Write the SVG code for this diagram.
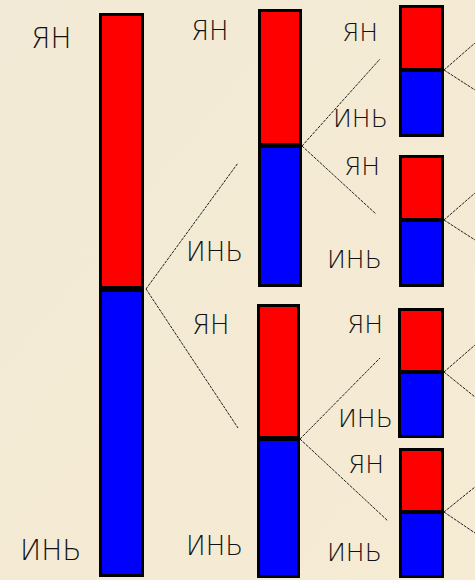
<svg xmlns="http://www.w3.org/2000/svg" width="475" height="580" viewBox="0 0 475 580">
<defs>
<linearGradient id="bg" x1="0" y1="0" x2="1" y2="1">
<stop offset="0" stop-color="#f2ead6"/>
<stop offset="1" stop-color="#f6ebd3"/>
</linearGradient>
<style>
.frame{fill:#000}
.yang{fill:#ff0000}
.yin{fill:#0000ff}
.lbl{font-family:"DejaVu Sans","Liberation Sans",sans-serif;font-weight:200;fill:#111}
.big{font-size:28px}
.mid{font-size:26px}
.sm{font-size:25px}
.con{stroke:#222;stroke-width:1;stroke-dasharray:3 1;fill:none}
</style>
</defs>
<rect width="475" height="580" fill="url(#bg)"/>

<g id="connectors">
<line class="con" x1="146" y1="289" x2="238" y2="163"/>
<line class="con" x1="146" y1="289" x2="238" y2="428"/>
<line class="con" x1="302" y1="146" x2="380" y2="59"/>
<line class="con" x1="302" y1="146" x2="376" y2="214"/>
<line class="con" x1="300" y1="439" x2="380" y2="358"/>
<line class="con" x1="300" y1="439" x2="388" y2="521"/>
<line class="con" x1="444" y1="70" x2="475" y2="43"/>
<line class="con" x1="444" y1="70" x2="475" y2="90"/>
<line class="con" x1="444" y1="220" x2="475" y2="193"/>
<line class="con" x1="444" y1="220" x2="475" y2="240"/>
<line class="con" x1="444" y1="372" x2="475" y2="345"/>
<line class="con" x1="444" y1="372" x2="475" y2="397"/>
<line class="con" x1="444" y1="512" x2="475" y2="487"/>
<line class="con" x1="444" y1="512" x2="475" y2="533"/>
</g>

<g id="bar-main">
<rect class="frame" x="99" y="13" width="45" height="564"/>
<rect class="yang" x="102" y="16" width="39" height="270"/>
<rect class="yin" x="102" y="292" width="39" height="282"/>
</g>

<g id="bar-mid-top">
<rect class="frame" x="258" y="9" width="44" height="278"/>
<rect class="yang" x="261" y="12" width="38" height="131"/>
<rect class="yin" x="261" y="148" width="38" height="136"/>
</g>

<g id="bar-mid-bottom">
<rect class="frame" x="257" y="304" width="43" height="274"/>
<rect class="yang" x="260" y="307" width="37" height="129"/>
<rect class="yin" x="260" y="441" width="37" height="134"/>
</g>

<g id="bar-r1">
<rect class="frame" x="399" y="5" width="45" height="132"/>
<rect class="yang" x="402" y="8" width="39" height="60"/>
<rect class="yin" x="402" y="72" width="39" height="62"/>
</g>

<g id="bar-r2">
<rect class="frame" x="399" y="155" width="45" height="132"/>
<rect class="yang" x="402" y="158" width="39" height="60"/>
<rect class="yin" x="402" y="222" width="39" height="62"/>
</g>

<g id="bar-r3">
<rect class="frame" x="398" y="308" width="46" height="130"/>
<rect class="yang" x="401" y="311" width="40" height="59"/>
<rect class="yin" x="401" y="374" width="40" height="61"/>
</g>

<g id="bar-r4">
<rect class="frame" x="399" y="448" width="45" height="130"/>
<rect class="yang" x="402" y="451" width="39" height="59"/>
<rect class="yin" x="402" y="514" width="39" height="61"/>
</g>

<g id="labels">
<text class="lbl big" x="31" y="48">ЯН</text>
<text class="lbl big" x="20" y="560">ИНЬ</text>
<text class="lbl mid" x="191" y="40">ЯН</text>
<text class="lbl mid" x="186" y="261">ИНЬ</text>
<text class="lbl mid" x="192" y="334">ЯН</text>
<text class="lbl mid" x="186" y="555">ИНЬ</text>
<text class="lbl sm" x="342" y="41">ЯН</text>
<text class="lbl sm" x="333" y="127">ИНЬ</text>
<text class="lbl sm" x="344" y="175">ЯН</text>
<text class="lbl sm" x="327" y="268">ИНЬ</text>
<text class="lbl sm" x="347" y="333">ЯН</text>
<text class="lbl sm" x="338" y="427">ИНЬ</text>
<text class="lbl sm" x="348" y="473">ЯН</text>
<text class="lbl sm" x="327" y="561">ИНЬ</text>
</g>
</svg>
